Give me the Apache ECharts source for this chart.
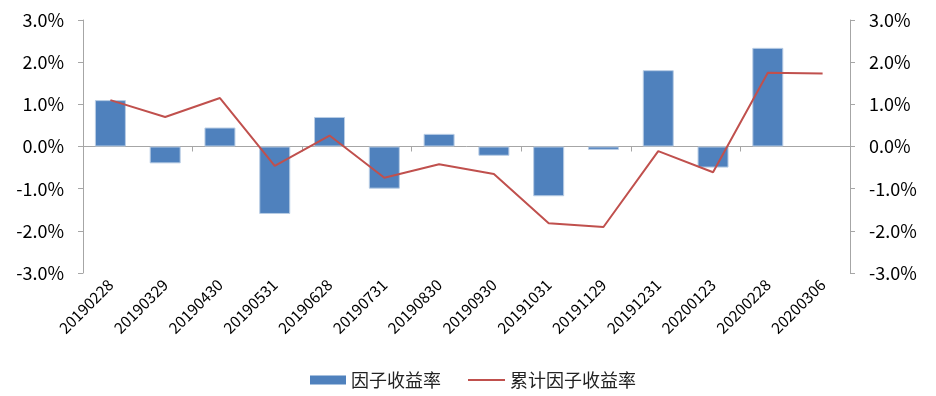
<!DOCTYPE html>
<html>
<head>
<meta charset="utf-8">
<script src="https://cdn.jsdelivr.net/npm/echarts@6/dist/echarts.min.js"></script>
<style>html,body{margin:0;padding:0;background:#fff;}#c{width:936px;height:396px;}</style>
</head>
<body>
<div id="c"></div>
<script>
var categories = ['20190228','20190329','20190430','20190531','20190628','20190731','20190830','20190930','20191031','20191129','20191231','20200123','20200228','20200306'];
var factorReturn = [1.10, -0.40, 0.45, -1.60, 0.70, -1.00, 0.30, -0.22, -1.18, -0.08, 1.81, -0.50, 2.34, null];
var cumReturn = [1.10, 0.70, 1.15, -0.46, 0.26, -0.74, -0.42, -0.65, -1.82, -1.91, -0.11, -0.61, 1.75, 1.73];
var yTicks = {min: -3, max: 3, interval: 1};

var font = '"Noto Sans CJK SC", "Microsoft YaHei", sans-serif';
var axisColor = '#A6A6A6';
var chart = echarts.init(document.getElementById('c'));
function yAxisCfg(pos) {
  return {
    type: 'value', position: pos, min: yTicks.min, max: yTicks.max, interval: yTicks.interval,
    axisLine: {show: true, lineStyle: {color: axisColor, width: 1}},
    axisTick: {show: true, length: 5, lineStyle: {color: axisColor}},
    splitLine: {show: false},
    axisLabel: {margin: 19, color: '#000', fontSize: 18, fontFamily: font,
      formatter: function (v) { return v.toFixed(1) + '%'; }}
  };
}
chart.setOption({
  animation: false,
  textStyle: {fontFamily: font},
  grid: {left: 83, right: 86, top: 20, bottom: 123, containLabel: false},
  legend: [{
    left: 305, top: 366, itemWidth: 36, itemHeight: 9, itemGap: 0,
    textStyle: {fontSize: 18, color: '#222', fontFamily: font},
    data: [{name: '因子收益率', icon: 'rect', itemStyle: {color: '#4F81BD', borderWidth: 0}}]
  }, {
    left: 463, top: 366, itemWidth: 37, itemHeight: 2, itemGap: 0,
    textStyle: {fontSize: 18, color: '#222', fontFamily: font},
    data: [{name: '累计因子收益率', icon: 'rect', itemStyle: {color: '#C0504D', borderWidth: 0}}]
  }],
  xAxis: [{
    type: 'category', data: categories, position: 'bottom',
    axisLine: {show: false, onZero: false}, axisTick: {show: false},
    axisLabel: {rotate: 45, fontSize: 15.5, color: '#000', fontFamily: font, margin: 9, interval: 0}
  }, {
    type: 'category', data: categories, position: 'bottom',
    axisLine: {show: true, onZero: true, lineStyle: {color: axisColor, width: 1}},
    axisTick: {show: true, length: 5, lineStyle: {color: axisColor}},
    axisLabel: {show: false}
  }],
  yAxis: [yAxisCfg('left'), yAxisCfg('right')],
  series: [{
    name: '因子收益率', type: 'bar', data: factorReturn, barWidth: 31,
    xAxisIndex: 0, yAxisIndex: 0,
    itemStyle: {color: '#4F81BD', borderColor: '#B9CDE5', borderWidth: 1}
  }, {
    name: '累计因子收益率', type: 'line', data: cumReturn, xAxisIndex: 0, yAxisIndex: 1,
    symbol: 'none', showSymbol: false,
    lineStyle: {color: '#C0504D', width: 2}, itemStyle: {color: '#C0504D'}
  }]
});
</script>
</body>
</html>
